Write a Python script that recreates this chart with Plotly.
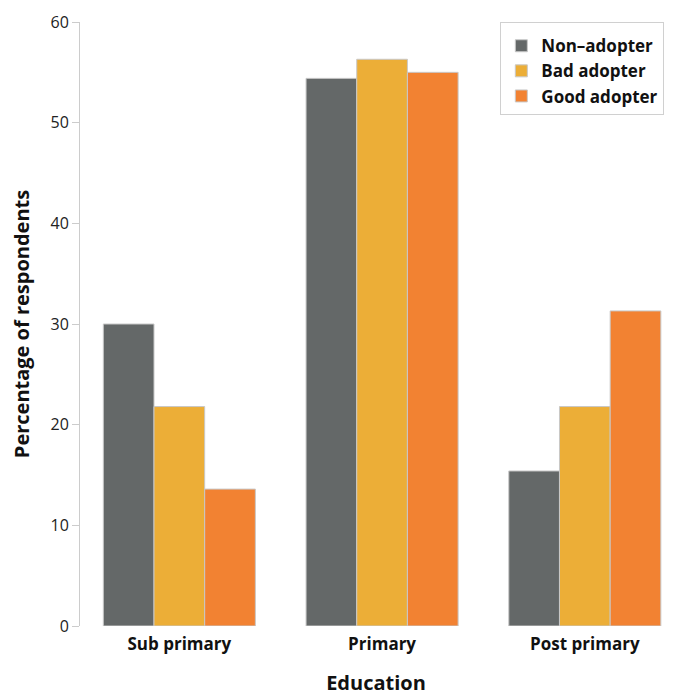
import plotly.graph_objects as go

categories = ["Sub primary", "Primary", "Post primary"]
series_names = ["Non\u2013adopter", "Bad adopter", "Good adopter"]
non_adopter = [30.0, 54.4, 15.4]
bad_adopter = [21.8, 56.3, 21.8]
good_adopter = [13.6, 55.0, 31.3]
colors = ["#646868", "#ECAE37", "#F28232"]
y_ticks = [0, 10, 20, 30, 40, 50, 60]

fig = go.Figure()
for name, vals, col in zip(series_names, [non_adopter, bad_adopter, good_adopter], colors):
    fig.add_trace(go.Bar(
        x=categories, y=vals, name=name,
        marker=dict(color=col, line=dict(color="#c8c8c8", width=1)),
    ))

FONT = "'Open Sans', Lato, sans-serif"
fig.update_layout(
    width=667, height=688,
    margin=dict(l=70, r=3, t=14, b=70),
    paper_bgcolor="white", plot_bgcolor="white",
    barmode="group", bargap=0.25, bargroupgap=0,
    font=dict(family=FONT, color="#1a1a1a"),
    showlegend=True,
    legend=dict(
        x=0.71, y=1.0, xanchor="left", yanchor="top",
        bordercolor="#d0d0d0", borderwidth=1, bgcolor="white",
        font=dict(family=FONT, size=17, color="#111", weight="bold"),
        title=dict(text=" ", font=dict(size=4)),
        itemwidth=30, tracegroupgap=0,
    ),
    xaxis=dict(
        range=[-0.49, 2.43], showline=False, showgrid=False, ticks="",
        ticklabelstandoff=6,
        tickfont=dict(family=FONT, size=17, color="#111", weight="bold"),
        title=dict(text="Education", font=dict(family=FONT, size=20, color="#111", weight="bold"), standoff=24),
    ),
    yaxis=dict(
        range=[0, 60], tickvals=y_ticks, showgrid=False, zeroline=False,
        showline=True, linecolor="#cccccc", linewidth=1,
        ticks="outside", ticklen=7, tickcolor="#cccccc",
        tickfont=dict(family=FONT, size=16, color="#222"),
        title=dict(text="Percentage of respondents", font=dict(family=FONT, size=20, color="#111", weight="bold"), standoff=26),
    ),
)

fig.write_html("out.html")
